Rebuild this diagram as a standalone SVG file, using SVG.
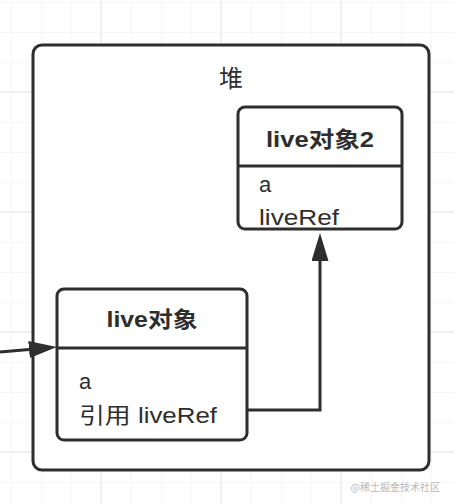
<svg xmlns="http://www.w3.org/2000/svg" width="454" height="504" viewBox="0 0 454 504">
  <style>
    .grid { stroke: #f0f0f0; stroke-width: 1; }
    .major { stroke: #e6e6e6; stroke-width: 1; }
    .box { fill: #ffffff; stroke: #2e2e2e; stroke-width: 3; }
    .div { stroke: #2e2e2e; stroke-width: 3; }
    .edge { fill: none; stroke: #2e2e2e; stroke-width: 3; }
    .title { font-family: "Liberation Sans", "Noto Sans CJK SC", sans-serif; font-size: 22px; font-weight: bold; fill: #2e2e2e; text-anchor: middle; }
    .body { font-family: "Liberation Sans", "Noto Sans CJK SC", sans-serif; font-size: 22px; fill: #2e2e2e; }
    .heap { font-family: "Liberation Sans", "Noto Sans CJK SC", sans-serif; font-size: 24px; fill: #2e2e2e; text-anchor: middle; }
    .wm { font-family: "Noto Sans CJK SC", sans-serif; font-size: 10px; fill: #b8b8b8; text-anchor: end; }
  </style>
  <defs>
    <pattern id="gridpat" x="11" y="2" width="30" height="30" patternUnits="userSpaceOnUse">
      <path d="M0,0 H30 M0,0 V30" class="grid" fill="none"/>
    </pattern>
    <marker id="arrow" markerUnits="userSpaceOnUse" markerWidth="30" markerHeight="20" refX="0" refY="8.5" orient="auto">
      <path d="M0,0 L28,8.5 L0,17 Z" fill="#2e2e2e"/>
    </marker>
  </defs>
  <rect x="0" y="0" width="454" height="504" fill="#ffffff"/>
  <rect x="0" y="0" width="454" height="504" fill="url(#gridpat)"/>
  <path d="M101,0 V504 M221,0 V504 M341,0 V504 M0,92 H454 M0,212 H454 M0,332 H454 M0,452 H454" class="major" fill="none"/>

  <g id="heap">
    <rect x="33" y="45" width="396" height="425" rx="9" class="box"/>
    <text x="231" y="87" class="heap">堆</text>
  </g>

  <g id="live2">
    <rect x="238" y="107" width="164" height="122" rx="7" class="box"/>
    <line x1="238" y1="166" x2="402" y2="166" class="div"/>
    <text x="320" y="147" class="title" textLength="108" lengthAdjust="spacingAndGlyphs">live对象2</text>
    <text x="259" y="192" class="body">a</text>
    <text x="259" y="225" class="body" textLength="80" lengthAdjust="spacingAndGlyphs">liveRef</text>
  </g>

  <g id="live1">
    <rect x="57" y="289" width="190" height="151" rx="7" class="box"/>
    <line x1="57" y1="348" x2="247" y2="348" class="div"/>
    <text x="152" y="327" class="title" textLength="91" lengthAdjust="spacingAndGlyphs">live对象</text>
    <text x="79" y="389" class="body">a</text>
    <text x="79" y="423" class="body" textLength="138" lengthAdjust="spacingAndGlyphs">引用 liveRef</text>
  </g>

  <g id="connectors">
    <path d="M0,352 L29,349.5" class="edge" marker-end="url(#arrow)"/>
    <path d="M247,410 H320 V261" class="edge" marker-end="url(#arrow)"/>
  </g>

  <text x="440" y="491" class="wm">@稀土掘金技术社区</text>
</svg>
